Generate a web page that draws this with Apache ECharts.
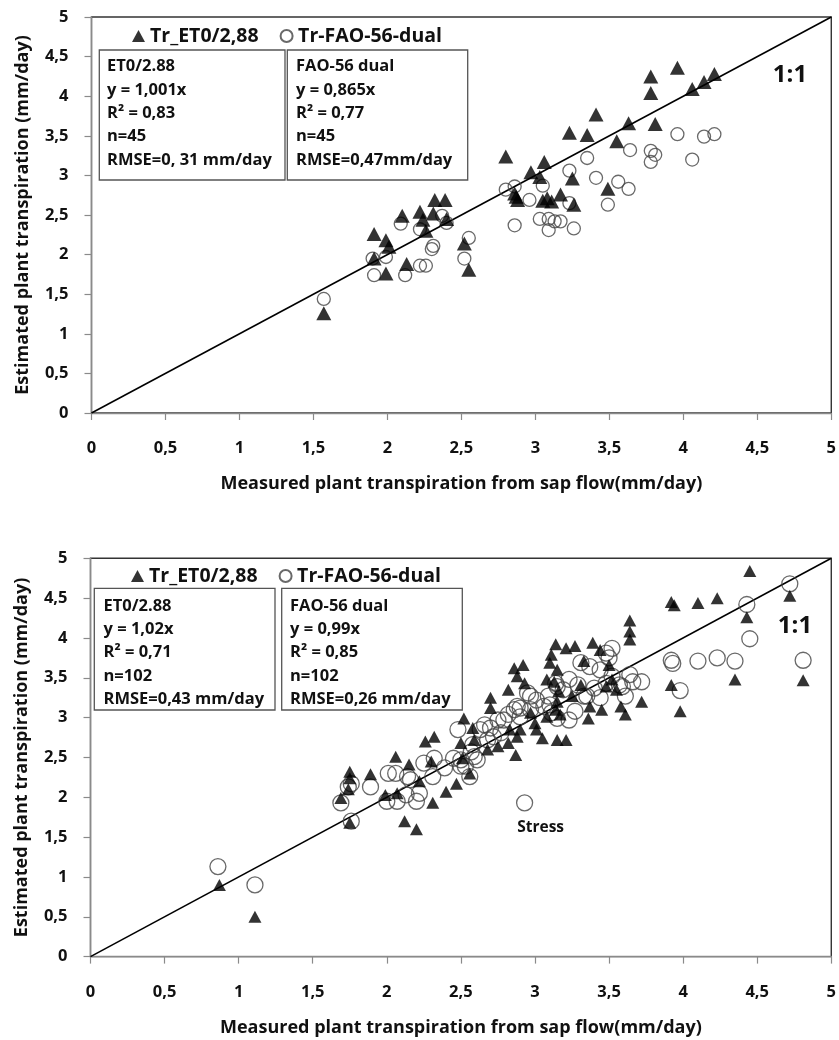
<!DOCTYPE html>
<html>
<head>
<meta charset="utf-8">
<script src="https://cdn.jsdelivr.net/npm/echarts@6/dist/echarts.min.js"></script>
<style>
  html, body { margin: 0; padding: 0; background: #fff; }
  #chart { width: 839px; height: 1040px; }
</style>
</head>
<body>
<div id="chart"></div>
<script>
// Tick labels shared by both panels (0 to 5 in steps of 0.5, decimal comma)
const tickLabels = ['0', '0,5', '1', '1,5', '2', '2,5', '3', '3,5', '4', '4,5', '5'];

const seriesNames = ['Tr_ET0/2,88', 'Tr-FAO-56-dual'];

// Upper panel: [measured sap flow, estimated] in mm/day
const topET0 = [
  [1.57, 1.26], [1.91, 2.26], [1.99, 2.18], [2.01, 2.10], [1.91, 1.95], [1.99, 1.76],
  [2.10, 2.49], [2.13, 1.88], [2.22, 2.54], [2.32, 2.69], [2.39, 2.69], [2.31, 2.52],
  [2.24, 2.44], [2.40, 2.45], [2.26, 2.30], [2.52, 2.14], [2.55, 1.81], [2.86, 2.77],
  [3.78, 4.25], [3.96, 4.36], [3.78, 4.04], [4.06, 4.09], [4.14, 4.18], [4.21, 4.28],
  [3.41, 3.77], [3.23, 3.54], [3.35, 3.51], [3.63, 3.66], [3.81, 3.65], [3.55, 3.43],
  [2.80, 3.24], [3.06, 3.17], [2.97, 3.04], [3.03, 2.98], [3.25, 2.96], [2.87, 2.73],
  [3.49, 2.83], [3.08, 2.71], [3.11, 2.67], [3.17, 2.76], [3.26, 2.63], [3.05, 2.68],
  [2.88, 2.69]
];
const topFAO = [
  [1.57, 1.44], [1.90, 1.95], [1.91, 1.74], [1.99, 1.97], [2.09, 2.39], [2.12, 1.74],
  [2.22, 1.86], [2.26, 1.86], [2.30, 2.07], [2.31, 2.11], [2.22, 2.32], [2.40, 2.40],
  [2.37, 2.49], [2.55, 2.21], [2.52, 1.95], [2.80, 2.82], [2.86, 2.86], [2.86, 2.37],
  [2.96, 2.69], [3.96, 3.52], [4.14, 3.49], [4.21, 3.52], [4.06, 3.20], [3.78, 3.31],
  [3.81, 3.26], [3.78, 3.17], [3.64, 3.32], [3.35, 3.22], [3.41, 2.97], [3.56, 2.92],
  [3.63, 2.83], [3.49, 2.63], [3.23, 3.06], [3.05, 2.87], [3.03, 2.45], [3.09, 2.45],
  [3.13, 2.42], [3.17, 2.42], [3.09, 2.31], [3.26, 2.33], [3.23, 2.65]
];

// Lower panel
const bottomET0 = [
  [0.87, 0.90], [1.11, 0.50], [1.75, 1.68], [2.12, 1.70], [2.20, 1.60],
  [1.75, 2.32], [1.75, 2.24], [1.89, 2.29], [1.74, 2.10], [1.69, 1.99],
  [2.06, 2.51], [2.15, 2.41], [1.99, 2.03], [2.07, 2.05], [2.22, 2.20], [2.31, 1.93],
  [2.26, 2.70], [2.32, 2.76], [2.30, 2.45], [2.40, 2.07], [2.47, 2.17], [2.56, 2.30],
  [2.52, 2.99], [2.58, 2.87], [2.50, 2.68], [2.59, 2.72], [2.51, 2.49],
  [2.70, 3.25], [2.70, 3.12], [2.82, 3.35], [2.68, 2.60], [2.75, 2.64], [2.87, 2.53],
  [2.83, 2.85], [2.82, 2.68], [2.88, 2.76], [2.90, 2.85], [2.86, 3.62], [2.92, 3.66],
  [2.88, 3.52], [2.93, 3.43], [2.97, 3.06], [3.00, 2.93], [3.01, 2.85], [3.05, 2.74],
  [3.15, 2.72], [3.21, 2.72],
  [3.08, 3.48], [3.13, 3.45], [3.10, 3.69], [3.11, 3.79], [3.14, 3.92], [3.21, 3.87],
  [3.27, 3.90], [3.15, 3.60], [3.16, 3.33], [3.15, 3.20], [3.08, 3.01], [3.17, 3.04],
  [3.14, 3.10], [3.25, 3.27], [3.31, 3.41], [3.33, 3.71], [3.39, 3.94], [3.44, 3.85],
  [3.37, 3.14], [3.36, 2.99], [3.45, 3.10], [3.48, 3.39], [3.50, 3.66], [3.52, 3.48],
  [3.55, 3.35], [3.58, 3.14], [3.61, 3.04], [3.72, 3.20], [3.64, 4.22], [3.64, 4.08],
  [3.64, 3.98],
  [4.45, 4.84], [3.92, 4.45], [3.94, 4.41], [4.10, 4.44], [4.23, 4.50], [4.43, 4.26],
  [4.72, 4.53], [4.35, 3.48], [4.81, 3.47], [3.92, 3.41], [3.98, 3.08]
];
const stressPoint = [2.93, 1.93];
const bottomFAO = [
  [0.86, 1.13], [1.11, 0.90], [1.76, 1.70],
  [1.69, 1.93], [1.74, 2.13], [1.76, 2.17], [1.89, 2.13], [2.00, 1.95], [2.06, 2.30],
  [2.07, 1.95], [2.13, 2.03], [2.16, 2.22], [2.20, 1.95], [2.22, 2.05], [2.25, 2.43],
  [2.31, 2.26], [2.32, 2.49], [2.39, 2.37], [2.45, 2.49], [2.48, 2.85], [2.53, 2.39],
  [2.56, 2.26], [2.57, 2.57], [2.58, 2.66], [2.63, 2.85], [2.66, 2.91], [2.70, 2.87],
  [2.72, 2.76], [2.75, 2.97], [2.79, 2.97], [2.82, 3.04], [2.86, 3.10], [2.88, 3.14],
  [2.90, 3.12], [2.90, 3.01], [2.95, 3.31], [2.97, 3.27], [3.01, 3.22], [3.06, 3.14],
  [3.09, 3.27], [3.10, 3.16], [3.11, 3.06], [3.15, 3.39], [3.19, 3.35], [3.23, 3.48],
  [3.23, 2.97], [3.29, 3.41], [3.31, 3.69], [3.33, 3.27], [3.40, 3.37], [3.44, 3.25],
  [3.48, 3.81], [3.50, 3.75], [3.52, 3.52], [3.57, 3.41], [3.61, 3.27], [3.64, 3.54],
  [3.66, 3.45], [3.72, 3.45], [3.27, 3.08], [2.97, 3.10], [2.50, 2.39], [2.77, 2.81],
  [3.44, 3.60], [3.37, 3.64], [3.48, 3.43], [3.14, 3.43], [3.15, 2.99], [3.35, 3.27],
  [3.59, 3.39], [2.61, 2.47], [2.01, 2.30], [2.14, 2.26], [2.50, 2.47], [2.59, 2.51],
  [2.68, 2.72],
  stressPoint,
  [4.72, 4.68], [4.43, 4.42], [4.45, 3.99], [3.92, 3.72], [3.93, 3.68], [4.10, 3.71],
  [4.23, 3.75], [4.35, 3.71], [4.81, 3.72], [3.98, 3.34], [3.52, 3.87]
];

const oneToOne = [[0, 0], [5, 5]];

const topStats = {
  et0: ['ET0/2.88', 'y = 1,001x', 'R² = 0,83', 'n=45', 'RMSE=0, 31 mm/day'],
  fao: ['FAO-56 dual', 'y = 0,865x', 'R² = 0,77', 'n=45', 'RMSE=0,47mm/day']
};
const bottomStats = {
  et0: ['ET0/2.88', 'y = 1,02x', 'R² = 0,71', 'n=102', 'RMSE=0,43 mm/day'],
  fao: ['FAO-56 dual', 'y = 0,99x', 'R² = 0,85', 'n=102', 'RMSE=0,26 mm/day']
};

const FONT = '"Open Sans", "Noto Sans", sans-serif';
const INK = '#111';

const tickFmt = v => tickLabels[Math.round(v * 2)];

function valueAxis(gridIndex, name, isY) {
  return {
    type: 'value', gridIndex, min: 0, max: 5, interval: 0.5,
    axisLine: { show: true, onZero: false, lineStyle: { color: '#8a8a8a', width: 1.3 } },
    axisTick: { show: true, length: 7, lineStyle: { color: '#8a8a8a', width: 1.2 } },
    splitLine: { show: false },
    axisLabel: {
      formatter: tickFmt, color: INK, fontFamily: FONT, fontWeight: 'bold',
      fontSize: 16.5, margin: isY ? 23 : 27,
      showMaxLabel: true, showMinLabel: true
    },
    name, nameLocation: 'middle', nameGap: isY ? 60 : 62,
    nameTextStyle: { color: INK, fontFamily: FONT, fontWeight: 'bold', fontSize: 18 }
  };
}

function statBox(left, top, width, height, lines, textLeft, textTop) {
  return [
    {
      type: 'rect', z: 10,
      shape: { x: left, y: top, width, height },
      style: { fill: '#fff', stroke: '#555', lineWidth: 1.3 }
    },
    {
      type: 'text', z: 11, x: textLeft, y: textTop,
      style: {
        text: lines.join('\n'), fill: INK, font: 'bold 16.5px ' + FONT,
        lineHeight: 23.3, verticalAlign: 'top', align: 'left'
      }
    }
  ];
}

function scatterPair(gridIndex, et0, fao, triSize, circSize) {
  return [
    {
      name: seriesNames[1], type: 'scatter', xAxisIndex: gridIndex, yAxisIndex: gridIndex,
      symbol: 'circle', symbolSize: circSize,
      itemStyle: { color: 'rgba(255,255,255,0)', borderColor: '#444', borderWidth: 1.3 },
      data: fao.map(p => p === stressPoint ? {
        value: p,
        label: {
          show: true, formatter: 'Stress', position: 'bottom', distance: 8, offset: [16, 0],
          color: INK, opacity: 1, fontFamily: FONT, fontWeight: 'bold', fontSize: 15.5
        }
      } : p),
      z: 3
    },
    {
      name: seriesNames[0], type: 'scatter', xAxisIndex: gridIndex, yAxisIndex: gridIndex,
      symbol: 'triangle', symbolSize: triSize,
      itemStyle: { color: '#000' },
      data: et0, z: 4
    },
    {
      name: '1:1', type: 'line', xAxisIndex: gridIndex, yAxisIndex: gridIndex,
      data: oneToOne, showSymbol: false, symbol: 'none', silent: true,
      lineStyle: { color: '#000', width: 1.6 }, z: 2
    }
  ];
}

function legendAt(left, top) {
  return {
    data: seriesNames, left, top, orient: 'horizontal',
    itemWidth: 13, itemHeight: 12, itemGap: 21,
    textStyle: { color: INK, fontFamily: FONT, fontWeight: 'bold', fontSize: 19.5, padding: [0, 0, 0, 0] },
    selectedMode: false
  };
}

const xName = 'Measured plant transpiration from sap flow(mm/day)';
const yName = 'Estimated plant transpiration (mm/day)';

const chart = echarts.init(document.getElementById('chart'), null, { renderer: 'canvas' });
chart.setOption({
  animation: false,
  backgroundColor: '#fff',
  grid: [
    { left: 91.5, top: 17, width: 740.5, height: 396, show: true, borderColor: '#333', borderWidth: 1.4, backgroundColor: 'transparent' },
    { left: 90.5, top: 558.3, width: 746, height: 398.3, show: true, borderColor: '#333', borderWidth: 1.4, backgroundColor: 'transparent' }
  ],
  xAxis: [valueAxis(0, xName, false), valueAxis(1, xName, false)],
  yAxis: [valueAxis(0, yName, true), valueAxis(1, yName, true)],
  legend: [legendAt(127, 21), legendAt(126, 561)],
  series: [
    ...scatterPair(0, topET0, topFAO, [15, 14], 13),
    ...scatterPair(1, bottomET0, bottomFAO, [13, 12], 16)
  ],
  graphic: [
    ...statBox(99.3, 50, 185.7, 130, topStats.et0, 107, 55),
    ...statBox(287.3, 50, 180.4, 130, topStats.fao, 296, 55),
    ...statBox(94.3, 588.3, 180.7, 121.7, bottomStats.et0, 103.5, 594.3),
    ...statBox(281.7, 588.3, 180.6, 121.7, bottomStats.fao, 290, 594.3),
    { type: 'text', z: 11, x: 790, y: 75, style: { text: '1:1', fill: INK, font: 'bold 24px ' + FONT, align: 'center', verticalAlign: 'middle' } },
    { type: 'text', z: 11, x: 795, y: 626, style: { text: '1:1', fill: INK, font: 'bold 24px ' + FONT, align: 'center', verticalAlign: 'middle' } }
  ]
});
</script>
</body>
</html>
